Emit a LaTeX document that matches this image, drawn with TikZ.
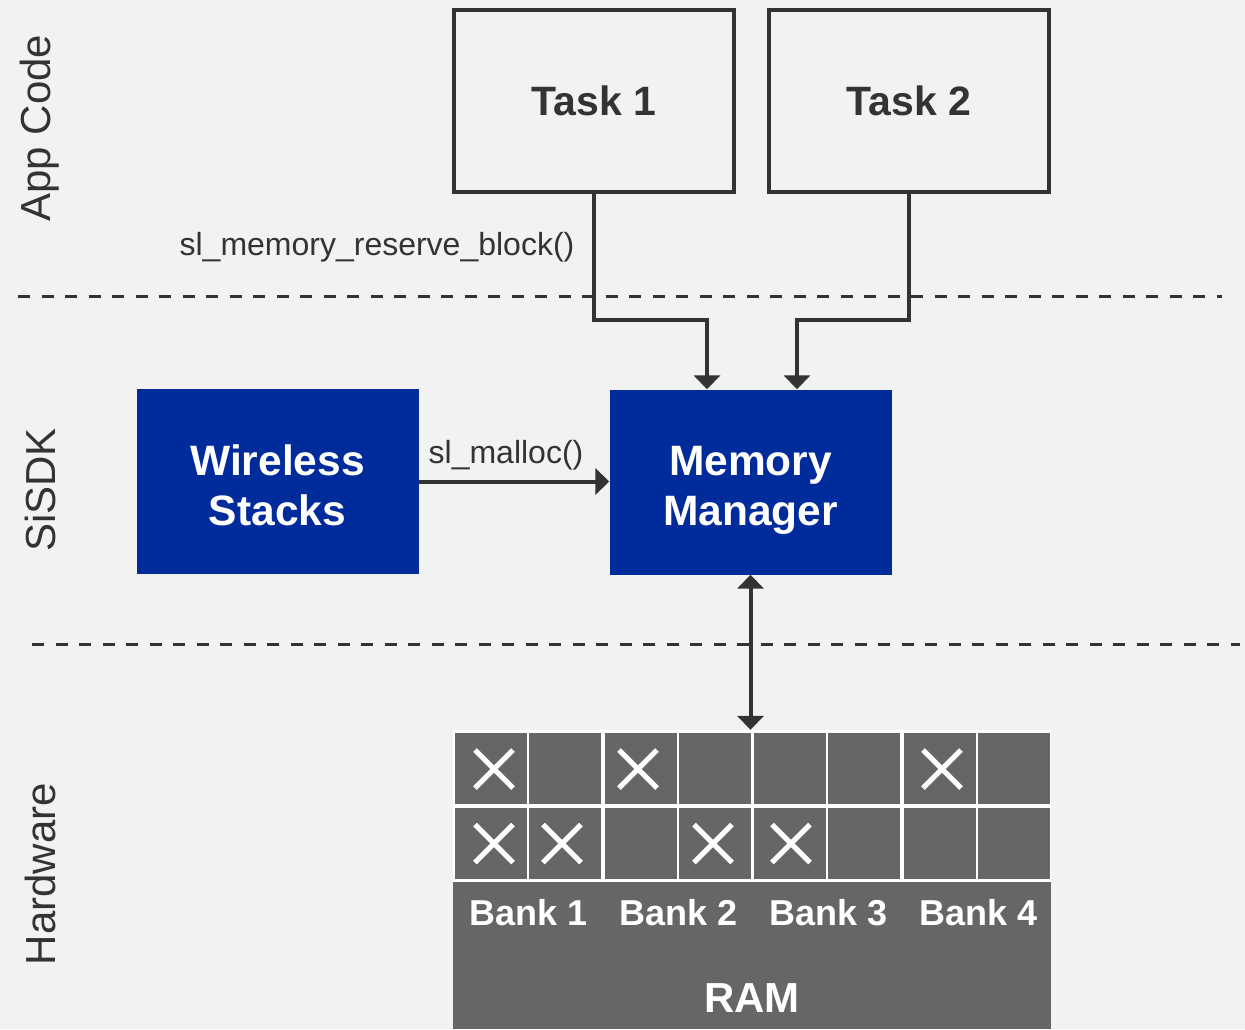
\documentclass[tikz,border=0pt]{standalone}
\usepackage{fontspec}
\setmainfont{Liberation Sans}
\usetikzlibrary{arrows.meta}

\definecolor{bg}{HTML}{F2F2F2}
\definecolor{ink}{HTML}{333333}
\definecolor{sdkblue}{RGB}{0,43,155}
\definecolor{ramgrey}{HTML}{666666}

\tikzset{
  taskbox/.style={draw=ink, line width=4pt, minimum width=280pt, minimum height=182pt,
    inner sep=0pt, text=ink, font=\fontsize{41}{48}\selectfont\bfseries},
  sdkbox/.style={fill=sdkblue, minimum width=282pt, minimum height=185pt, inner sep=0pt,
    align=center, text=white, font=\fontsize{42.5}{50}\selectfont\bfseries},
  layer/.style={rotate=90, text=ink, font=\fontsize{42}{48}\selectfont},
  call/.style={text=ink, font=\fontsize{32}{36}\selectfont},
  conn/.style={draw=ink, line width=4pt, >={Triangle[width=26pt,length=14pt]}, ->},
  sep/.style={draw=ink, line width=3pt, dash pattern=on 12pt off 11.5pt},
  banklabel/.style={text=white, font=\fontsize{36}{42}\selectfont\bfseries},
  used/.style={draw=white, line width=5pt}
}

\begin{document}
\begin{tikzpicture}[x=1pt,y=-1pt]

\fill[bg] (0,0) rectangle (1245,1029);
\useasboundingbox (0,0) rectangle (1245,1029);

% layers
\node[layer] (applabel) at (40,128) {App Code};
\node[layer] (sdklabel) at (40,490) {SiSDK};
\node[layer] (hwlabel) at (40,874) {Hardware};

\draw[sep] (18,296) -- (1222,296);
\draw[sep] (32,644) -- (1240,644);

\node[taskbox] (task1) at (594,101) {Task 1};
\node[taskbox] (task2) at (909,101) {Task 2};

\node[sdkbox] (wireless) at (277.5,481.5) {\rule{0pt}{52pt}Wireless\\Stacks\strut};
\node[sdkbox] (mem) at (750.5,482) {\rule{0pt}{52pt}Memory\\Manager\strut};

\node[call] (reserve) at (377,247) {sl\_memory\_reserve\_block()};
\node[call] (malloc) at (506,455) {sl\_malloc()};

\draw[conn] (task1.south) -- ++(0,126) -| ([xshift=-43.5pt]mem.north);
\draw[conn] (task2.south) -- ++(0,126) -| ([xshift=46.5pt]mem.north);
\draw[conn] (wireless.east) -- (wireless.east -| mem.west);

% RAM
\node[fill=white, minimum width=598pt, minimum height=152pt, inner sep=0pt] (grid) at (752,806) {};
\foreach \b in {0,...,3}
  \foreach \s in {0,1}
    \foreach \r in {0,1}
      \fill[ramgrey] ({455+149.5*\b+74*\s},{733+75*\r}) rectangle ++(72,71);

\foreach \x/\y in {494/769,638/769,942/769,494/843.5,562/843.5,713/843.5,791/843.5}
  \draw[used] (\x-19,\y-19) -- (\x+19,\y+19) (\x-19,\y+19) -- (\x+19,\y-19);

\node[fill=ramgrey, minimum width=598pt, minimum height=147pt, inner sep=0pt] (ram) at (752,955.5) {};
\node[banklabel] (bank1) at (529,913) {Bank 1};
\node[banklabel] (bank2) at (679,913) {Bank 2};
\node[banklabel] (bank3) at (829,913) {Bank 3};
\node[banklabel] (bank4) at (979,913) {Bank 4};
\node[banklabel, font=\fontsize{42}{48}\selectfont\bfseries] (ramlabel) at (752,998) {RAM};

\draw[conn, <->] (mem.south) -- (mem.south |- grid.north);

\end{tikzpicture}
\end{document}
